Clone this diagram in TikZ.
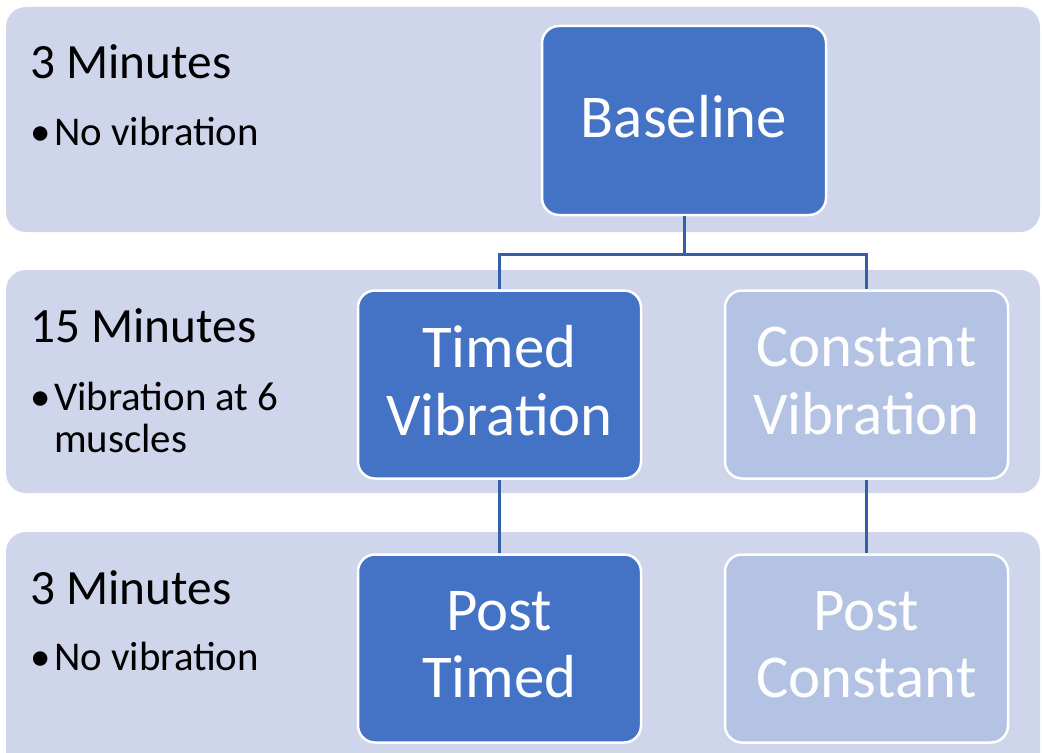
\documentclass[tikz,border=0pt]{standalone}
\usepackage{fontspec}
\setmainfont{Carlito}
\definecolor{bandfill}{HTML}{CFD5EA}
\definecolor{darkbox}{HTML}{4472C4}
\definecolor{lightbox}{HTML}{B4C2E3}
\definecolor{linkblue}{HTML}{3560A8}
\tikzset{
  band/.style={fill=bandfill, draw=none, rounded corners=20bp},
  stagebox/.style={draw=white, line width=2.5bp, rounded corners=17bp,
    minimum width=283bp, minimum height=188bp, inner sep=0pt,
    text=white, align=center, text depth=8bp,
    font=\fontsize{61}{68}\selectfont},
  darkstage/.style={stagebox, fill=darkbox},
  lightstage/.style={stagebox, fill=lightbox},
  link/.style={draw=linkblue, line width=3bp},
  heading/.style={anchor=base west, inner sep=0pt, font=\fontsize{49.5}{54}\selectfont},
  bullettext/.style={anchor=base west, inner sep=0pt,
    font=\fontsize{41}{44}\selectfont},
}
\begin{document}
\begin{tikzpicture}[x=1bp, y=-1bp]
  \useasboundingbox (0,0) rectangle (1042,753);
  \clip (0,0) rectangle (1042,753);

  % background bands for the three phases
  \path[band] (6,7) rectangle (1040,232);
  \path[band] (6,270) rectangle (1040,493);
  \path[band] (6,532) rectangle (1040,775);

  % phase labels
  \node[heading] (h1) at (30,79) {3 Minutes};
  \node[bullettext] (b1) at (30,145) {•};
  \node[bullettext] (d1) at (54,145) {No vibration};

  \node[heading] (h2) at (30,342) {15 Minutes};
  \node[bullettext] (b2) at (30,410) {•};
  \node[bullettext] (d2) at (54,410) {Vibration at 6};
  \node[bullettext] (d2b) at (54,452) {muscles};

  \node[heading] (h3) at (30,604) {3 Minutes};
  \node[bullettext] (b3) at (30,670) {•};
  \node[bullettext] (d3) at (54,670) {No vibration};

  % condition boxes
  \node[darkstage, minimum width=284bp, minimum height=189bp] (base) at (684,120.5) {Baseline};
  \node[darkstage] (timed) at (499.5,384.5) {Timed\\Vibration};
  \node[lightstage] (const) at (866.5,384.5) {Constant\\Vibration};
  \node[darkstage] (ptimed) at (499.5,648.5) {Post\\Timed};
  \node[lightstage] (pconst) at (866.5,648.5) {Post\\Constant};

  % connectors
  \draw[link] (base.south) -- ++(0,38) coordinate (fork) -| (timed.north);
  \draw[link] (fork) -| (const.north);
  \draw[link] (timed.south) -- (ptimed.north);
  \draw[link] (const.south) -- (pconst.north);
\end{tikzpicture}
\end{document}
